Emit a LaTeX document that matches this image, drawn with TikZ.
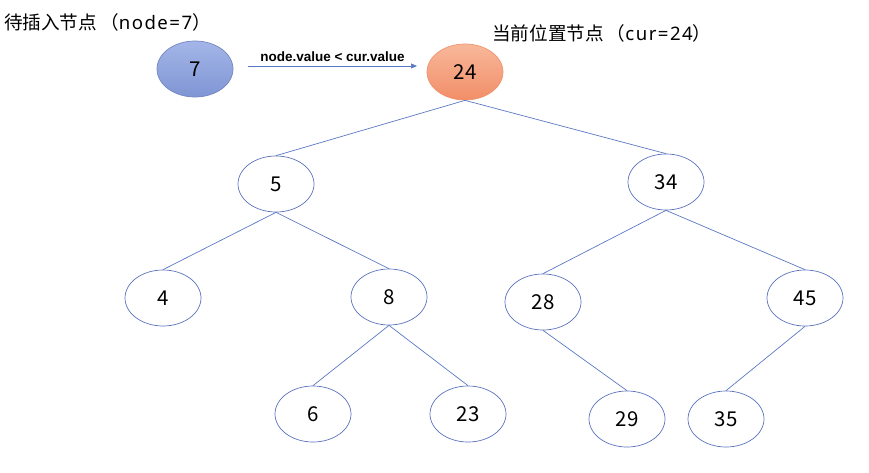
\documentclass[tikz,border=0pt]{standalone}
\usepackage{fontspec}
\setmainfont{Noto Sans CJK SC}
\newfontfamily\labfont{Liberation Sans}
\newfontfamily\latfont{Noto Sans}[LetterSpace=8]
\usetikzlibrary{shapes.geometric,arrows.meta}
\definecolor{edgeblue}{HTML}{5B78C2}
\definecolor{ringblue}{HTML}{5A72BC}
\definecolor{blueA}{HTML}{A4B6E8}
\definecolor{blueB}{HTML}{7F95D4}
\definecolor{orA}{HTML}{F8B89A}
\definecolor{orB}{HTML}{F28E68}
\definecolor{orRing}{HTML}{EE9470}
\begin{document}
\begin{tikzpicture}[x=1pt,y=-1pt,
  tnode/.style={ellipse,draw=ringblue,line width=0.7pt,minimum width=76pt,minimum height=56pt,inner sep=0pt,font=\fontsize{20.5}{24}\selectfont,text=black},
  edge/.style={draw=edgeblue,line width=0.7pt},
  captext/.style={font=\fontsize{18.6}{22}\selectfont,anchor=west,inner sep=0pt}]
\useasboundingbox (0,0) rectangle (869,472);
\node[tnode,draw=blueB!90!black,top color=blueA,bottom color=blueB] (n7) at (195,69) {7};
\node[tnode,draw=orRing,top color=orA,bottom color=orB] (n24) at (465,72) {24};
\node[tnode] (n5) at (276,184) {5};
\node[tnode] (n34) at (666,182) {34};
\node[tnode] (n4) at (163,298) {4};
\node[tnode] (n8) at (389,297) {8};
\node[tnode] (n28) at (543,302) {28};
\node[tnode] (n45) at (805,298) {45};
\node[tnode] (n6) at (313,414) {6};
\node[tnode] (n23) at (468,414) {23};
\node[tnode] (n29) at (627,419) {29};
\node[tnode] (n35) at (726,419) {35};
\node[captext] (t1) at (4,22) {待插入节点\hspace{3pt}（{\latfont node=7}）};
\node[captext] (t2) at (492,33) {当前位置节点\hspace{3pt}（{\latfont cur=24}）};
\coordinate (a1) at (248,66);
\coordinate (a2) at (417,66);
\draw[edge,-{Triangle[length=6pt,width=5pt]}] (a1) -- node[above=1pt,font=\labfont\bfseries\fontsize{13.5}{15}\selectfont,text=black] (al) {node.value < cur.value} (a2);
\draw[edge] (n24.south) -- (n5.north);
\draw[edge] (n24.south) -- (n34.north);
\draw[edge] (n5.south) -- (n4.north);
\draw[edge] (n5.south) -- (n8.north);
\draw[edge] (n8.south) -- (n6.north);
\draw[edge] (n8.south) -- (n23.north);
\draw[edge] (n34.south) -- (n28.north);
\draw[edge] (n34.south) -- (n45.north);
\draw[edge] (n28.south) -- (n29.north);
\draw[edge] (n45.south) -- (n35.north);
\end{tikzpicture}
\end{document}
